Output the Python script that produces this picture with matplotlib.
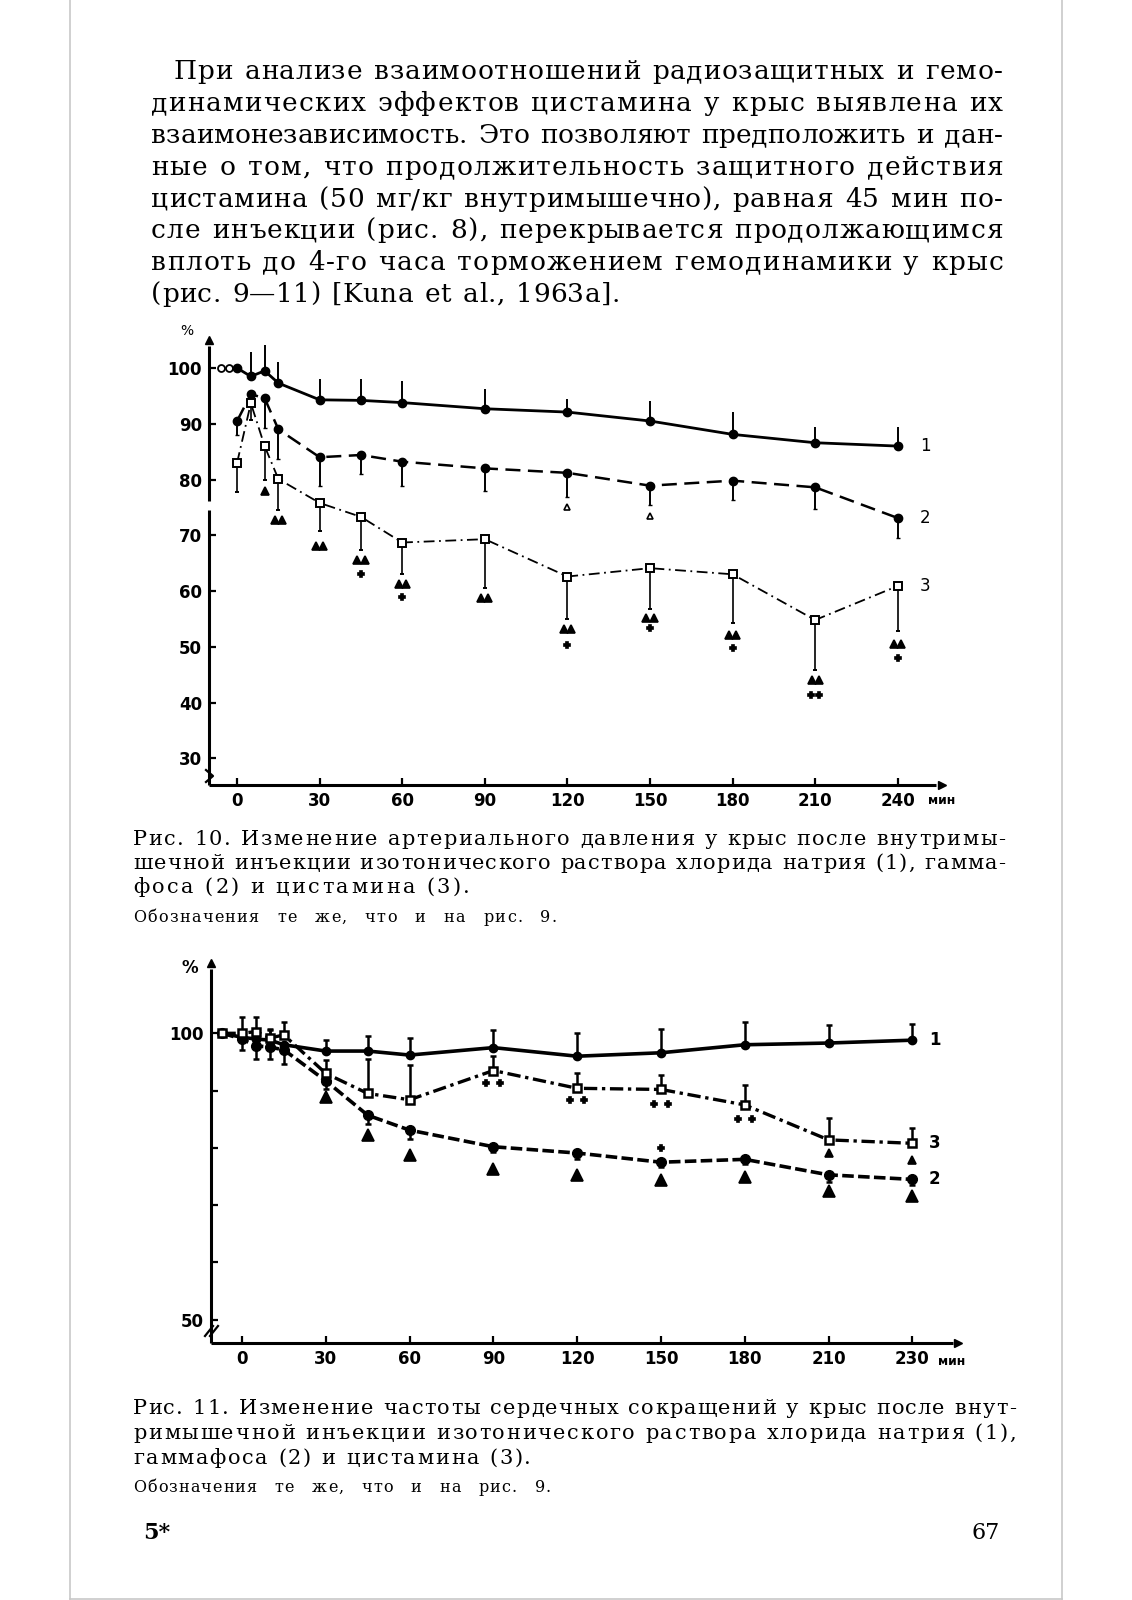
import numpy as np
import matplotlib
matplotlib.use('Agg')
import matplotlib.pyplot as plt
from matplotlib.transforms import IdentityTransform
from matplotlib.lines import Line2D
from matplotlib.font_manager import FontProperties

# ---------- Рис. 10: артериальное давление (% от исходного) ----------
t10 = [0, 5, 10, 15, 30, 45, 60, 90, 120, 150, 180, 210, 240]
bp_nacl = [100, 98.5, 99.5, 97.3, 94.3, 94.2, 93.8, 92.7, 92.1, 90.5, 88.1, 86.6, 86.0]
bp_nacl_err = [0, 4.4, 4.6, 3.8, 3.7, 3.8, 3.8, 3.6, 2.3, 3.5, 4.0, 2.8, 3.4]
bp_gamma = [90.5, 95.3, 94.6, 89.0, 84.0, 84.4, 83.2, 82.0, 81.2, 78.9, 79.8, 78.6, 73.1]
bp_gamma_err = [2.5, 0, 5.4, 5.3, 5.1, 3.4, 4.3, 4.0, 4.3, 3.5, 3.5, 3.8, 3.6]
bp_cyst = [83.0, 93.7, 86.0, 80.1, 75.8, 73.3, 68.7, 69.3, 62.6, 64.1, 63.0, 54.8, 60.9]
bp_cyst_err = [5.2, 3.0, 6.0, 5.6, 5.1, 5.9, 5.6, 8.8, 7.7, 7.4, 8.8, 9.0, 8.1]
bp_base_t = [-6, -3]          # исходные точки (100 %)
bp_base = [100, 100]
# значки достоверности
bp_tri_t = [10, 15, 30, 45, 60, 90, 120, 150, 180, 210, 240]
bp_tri_y = [78.0, 72.7, 68.1, 65.6, 61.2, 58.8, 53.2, 55.2, 52.1, 44.0, 50.5]
bp_tri_n = [1, 2, 2, 2, 2, 2, 2, 2, 2, 2, 2]
bp_cross_t = [45, 60, 120, 150, 180, 210, 240]
bp_cross_y = [63.0, 58.9, 50.3, 53.3, 49.7, 41.3, 48.0]
bp_cross_n = [1, 1, 1, 1, 1, 2, 1]
bp_otri_t = [120, 150]
bp_otri_y = [75.1, 73.5]
bp_yticks = [30, 40, 50, 60, 70, 80, 90, 100]
bp_xticks = [0, 30, 60, 90, 120, 150, 180, 210, 240]

# ---------- Рис. 11: частота сердечных сокращений (%) ----------
t11 = [-7, 0, 5, 10, 15, 30, 45, 60, 90, 120, 150, 180, 210, 240]
hr_nacl = [100, 99.3, 99.0, 98.8, 98.0, 96.9, 96.9, 96.2, 97.5, 96.0, 96.6, 98.0, 98.3, 98.8]
hr_nacl_err = [0, 0, 0, 1.8, 0, 1.9, 2.6, 2.9, 3.1, 4.0, 4.1, 3.9, 3.2, 2.9]
hr_gamma = [100, 99.0, 97.8, 97.6, 97.1, 91.7, 85.7, 83.1, 80.2, 79.1, 77.5, 78.0, 75.3, 74.5]
hr_gamma_err = [0, 2.0, 2.2, 2.0, 2.5, 1.5, 1.5, 1.5, 1.0, 1.0, 0.8, 0.8, 1.2, 1.0]
hr_cyst = [100, 100.0, 100.3, 99.2, 99.7, 93.0, 89.5, 88.4, 93.5, 90.4, 90.2, 87.5, 81.4, 80.8]
hr_cyst_err = [0, 2.9, 2.6, 1.5, 2.2, 2.3, 6.1, 6.1, 2.5, 2.7, 2.5, 3.5, 3.8, 2.6]
hr_tri_t = [30, 45, 60, 90, 120, 150, 180, 210, 240]
hr_tri_y = [88.9, 82.2, 78.8, 76.4, 75.3, 74.4, 75.0, 72.4, 71.6]
hr_tri3_t = [210, 240]
hr_tri3_y = [79.1, 77.9]
hr_cross_t = [90, 120, 150, 180, 150]
hr_cross_y = [91.3, 88.4, 87.7, 85.0, 80.0]
hr_cross_n = [2, 2, 2, 2, 1]
hr_yticks = [50, 60, 70, 80, 90, 100]
hr_ylabels = ['50', '', '', '', '', '100']
hr_xticks = [0, 30, 60, 90, 120, 150, 180, 210, 240]
hr_xlabels = ['0', '30', '60', '90', '120', '150', '180', '210', '230']

# ---------- текст страницы ----------
para = [
    "При анализе взаимоотношений радиозащитных и гемо-",
    "динамических эффектов цистамина у крыс выявлена их",
    "взаимонезависимость. Это позволяют предположить и дан-",
    "ные о том, что продолжительность защитного действия",
    "цистамина (50 мг/кг внутримышечно), равная 45 мин по-",
    "сле инъекции (рис. 8), перекрывается продолжающимся",
    "вплоть до 4-го часа торможением гемодинамики у крыс",
    "(рис. 9—11) [Kuna et al., 1963a].",
]
cap10 = [
    "Рис. 10. Изменение артериального давления у крыс после внутримы-",
    "шечной инъекции изотонического раствора хлорида натрия (1), гамма-",
    "фоса (2) и цистамина (3).",
]
cap11 = [
    "Рис. 11. Изменение частоты сердечных сокращений у крыс после внут-",
    "римышечной инъекции изотонического раствора хлорида натрия (1),",
    "гаммафоса (2) и цистамина (3).",
]
note = "Обозначения те же, что и на рис. 9."

W, H = 1132, 1600
fig = plt.figure(figsize=(W / 100, H / 100), dpi=100)
fig.patch.set_facecolor('white')
rend = fig.canvas.get_renderer()
SERIF = 'DejaVu Serif'
SANS = 'DejaVu Sans'
PX = IdentityTransform()
_wcache = {}


def ink(s, fp):
    return rend.get_text_width_height_descent(s, fp, ismath=False)[0]


def advance(ch, fp):
    # ширина шага знака: "HcH" минус "HH"
    key = (ch, fp.get_size_in_points(), fp.get_weight())
    if key not in _wcache:
        _wcache[key] = ink('H' + ch + 'H', fp) - ink('HH', fp)
    return _wcache[key]


def put_line(txt, x0, x1, ybase, size, weight='normal', gap_em=0.42):
    # выключка по ширине: небольшая разрядка букв + пробелы
    fp = FontProperties(family=SERIF, size=size, weight=weight)
    em = size * 100 / 72
    words = txt.split(' ')
    widths = [[advance(c, fp) for c in w] for w in words]
    natural = sum(sum(w) for w in widths)
    nchars = sum(len(w) for w in words)
    gap = gap_em * em
    track = (x1 - x0 - natural - gap * (len(words) - 1)) / max(nchars - 1, 1)
    if track < 0:
        track = 0
        gap = (x1 - x0 - natural) / max(len(words) - 1, 1)
    x = x0
    for w, ws in zip(words, widths):
        for c, cw in zip(w, ws):
            fig.text(x, H - ybase, c, fontproperties=fp, transform=PX, va='baseline', ha='left')
            x += cw + track
        x += gap


# paragraph
para_base = [79, 111, 143, 175, 207, 238, 270, 302]
for i, line in enumerate(para):
    x0 = 173.5 if i == 0 else 151
    x1 = 620 if i == len(para) - 1 else 1003
    put_line(line, x0, x1, para_base[i], 19)

# captions
for line, yb, x1 in zip(cap10, [845, 869, 893], [1005, 1005, 470]):
    put_line(line, 133, x1, yb, 15)
put_line(note, 133, 557, 922, 11.5, gap_em=1.05)
for line, yb, x1 in zip(cap11, [1414, 1439, 1464], [1016, 1016, 531]):
    put_line(line, 133, x1, yb, 15)
put_line(note, 133, 551, 1492, 11.5, gap_em=1.05)

fig.text(143, H - 1539, "5*", fontsize=16, family=SERIF, weight='bold', transform=PX, va='baseline')
fig.text(1000, H - 1539, "67", fontsize=16, family=SERIF, transform=PX, va='baseline', ha='right')

# page border
for xs, ys in [([69.5, 69.5], [0, 1599]), ([1061.5, 1061.5], [0, 1599]), ([69.5, 1061.5], [1599, 1599])]:
    fig.add_artist(Line2D(xs, [H - y for y in ys], transform=PX, color='#c8c8c8', lw=1.2))


def marks(ax, ts, ys, ns, marker, ms, mfc='k', sep=2.6):
    for t, y, n in zip(ts, ys, ns):
        offs = [0] if n == 1 else [-sep / 2, sep / 2]
        for o in offs:
            ax.plot(t + o, y, ls='none', marker=marker, ms=ms, mfc=mfc, mec='k', mew=1.2,
                    color='k', clip_on=False, zorder=4)


def frame(ax, xlo, ylo, xarrow, yarrow, gaps=()):
    for s in ax.spines.values():
        s.set_visible(False)
    segs = [ylo] + [g for pair in gaps for g in pair] + [yarrow - 1]
    for a, b in zip(segs[0::2], segs[1::2]):
        ax.plot([xlo, xlo], [a, b], color='k', lw=2.2, clip_on=False, solid_capstyle='butt')
    ax.plot(xlo, yarrow, marker='^', ms=6, color='k', clip_on=False)
    ax.plot([xlo, xarrow - 2], [ylo, ylo], color='k', lw=2.2, clip_on=False, solid_capstyle='butt')
    ax.plot(xarrow, ylo, marker='>', ms=6, color='k', clip_on=False)


# ================= Рис. 10 =================
ax1 = fig.add_axes([209 / W, 1 - 785 / H, (952.8 - 209) / W, (785 - 334.6) / H])
ax1.set_xlim(-10.2, 260)
ax1.set_ylim(25.2, 106)
ax1.patch.set_alpha(0)
frame(ax1, -10.2, 25.2, 256, 105, gaps=[(74.6, 76.2)])
z = np.zeros(len(t10))
ax1.errorbar(t10, bp_nacl, yerr=[z, bp_nacl_err], color='k', lw=2.0, marker='o', ms=6,
             elinewidth=1.4, capsize=0, clip_on=False, zorder=3)
ax1.errorbar(t10, bp_gamma, yerr=[bp_gamma_err, z], color='k', lw=1.8, dashes=(6, 3), marker='o',
             ms=6, elinewidth=1.4, capsize=1.5, clip_on=False, zorder=3)
ax1.errorbar(t10, bp_cyst, yerr=[bp_cyst_err, z], color='k', lw=1.3, dashes=(6, 2.5, 1, 2.5),
             marker='s', ms=6, mfc='white', mew=1.4, elinewidth=1.2, capsize=1.5, clip_on=False, zorder=3)
ax1.plot(bp_base_t, bp_base, ls='none', marker='o', ms=5, mfc='white', mec='k', mew=1.3, clip_on=False)
marks(ax1, bp_tri_t, bp_tri_y, bp_tri_n, '^', 6)
marks(ax1, bp_cross_t, bp_cross_y, bp_cross_n, 'P', 4, sep=3)
marks(ax1, bp_otri_t, bp_otri_y, [1] * len(bp_otri_t), '^', 5, mfc='white')
for y, lab in zip([bp_nacl[-1], bp_gamma[-1], bp_cyst[-1]], ['1', '2', '3']):
    ax1.text(t10[-1] + 8, y, lab, fontsize=12, family=SANS, va='center', ha='left')
ax1.set_xticks(bp_xticks)
ax1.set_xticklabels([str(v) for v in bp_xticks], fontsize=12, family=SANS, weight='bold')
ax1.set_yticks(bp_yticks)
ax1.set_yticklabels([str(v) for v in bp_yticks], fontsize=12, family=SANS, weight='bold')
ax1.tick_params(direction='in', length=5, width=1.6, pad=5)
ax1.text(256, 22.4, 'мин', fontsize=9, family=SANS, weight='bold', ha='center', va='center')
fig.text(187, H - 331, '%', fontsize=10, family=SANS, transform=PX, ha='center', va='center')
fig.add_artist(Line2D([206, 213, 206], [H - 770, H - 776, H - 782], transform=PX, color='k', lw=1.6))

# ================= Рис. 11 =================
ax2 = fig.add_axes([211 / W, 1 - 1343 / H, (968.2 - 211) / W, (1343 - 958.8) / H])
ax2.set_xlim(-11.1, 260)
ax2.set_ylim(45.95, 113)
ax2.patch.set_alpha(0)
frame(ax2, -11.1, 45.95, 256.5, 112.3)
z = np.zeros(len(t11))
ax2.errorbar(t11, hr_nacl, yerr=[z, hr_nacl_err], color='k', lw=2.6, marker='o', ms=6,
             elinewidth=1.8, capsize=2.5, capthick=1.8, clip_on=False, zorder=3)
ax2.errorbar(t11, hr_gamma, yerr=[hr_gamma_err, z], color='k', lw=2.6, dashes=(3.2, 1.2), marker='o',
             ms=7, elinewidth=1.8, capsize=2.5, capthick=1.8, clip_on=False, zorder=3)
ax2.errorbar(t11, hr_cyst, yerr=[z, hr_cyst_err], color='k', lw=2.4, dashes=(4, 1.4, 1, 1.4),
             marker='s', ms=6, mfc='white', mew=1.8, elinewidth=1.8, capsize=2.5, capthick=1.8,
             clip_on=False, zorder=3)
marks(ax2, hr_tri_t, hr_tri_y, [1] * len(hr_tri_t), '^', 9)
marks(ax2, hr_tri3_t, hr_tri3_y, [1] * len(hr_tri3_t), '^', 6)
marks(ax2, hr_cross_t, hr_cross_y, hr_cross_n, 'P', 5, sep=5)
for y, lab in zip([hr_nacl[-1], hr_cyst[-1], hr_gamma[-1]], ['1', '3', '2']):
    ax2.text(t11[-1] + 6, y, lab, fontsize=12, family=SANS, weight='bold', va='center', ha='left')
ax2.set_xticks(hr_xticks)
ax2.set_xticklabels(hr_xlabels, fontsize=12, family=SANS, weight='bold')
ax2.set_yticks(hr_yticks)
ax2.set_yticklabels(hr_ylabels, fontsize=12, family=SANS, weight='bold')
ax2.tick_params(direction='in', length=5, width=1.6, pad=5)
ax2.text(254, 42.7, 'мин', fontsize=9, family=SANS, weight='bold', ha='center', va='center')
fig.text(190, H - 968, '%', fontsize=12, family=SANS, weight='bold', transform=PX, ha='center', va='center')
for dx in (0, 5):
    fig.add_artist(Line2D([205 + dx, 213 + dx], [H - 1336, H - 1326], transform=PX, color='k', lw=1.6))

fig.savefig('out.png', dpi=100, facecolor='white')
